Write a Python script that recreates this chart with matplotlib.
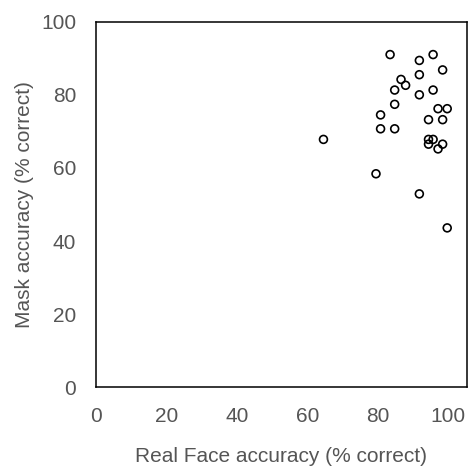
import matplotlib
matplotlib.use("Agg")
import matplotlib.pyplot as plt

real_face = [83.5, 91.8, 95.7, 98.4, 91.8, 86.6, 87.9, 84.8, 95.7, 91.8,
             84.8, 80.8, 97.1, 99.7, 94.4, 98.4, 80.8, 84.8, 64.6, 94.4,
             95.7, 94.4, 98.4, 97.1, 79.5, 91.8, 99.7]
mask = [91.0, 89.4, 91.0, 86.8, 85.5, 84.2, 82.6, 81.3, 81.3, 80.0,
        77.4, 74.5, 76.2, 76.2, 73.2, 73.2, 70.7, 70.7, 67.8, 67.8,
        67.8, 66.5, 66.5, 65.2, 58.4, 52.9, 43.6]
ticks = [0, 20, 40, 60, 80, 100]

plt.rcParams['font.family'] = ['Liberation Sans', 'DejaVu Sans']
fig = plt.figure(figsize=(4.68, 4.68), dpi=100)
ax = fig.add_axes([0.2045, 0.1724, 0.7925, 0.7813])
ax.scatter(real_face, mask, s=32, facecolors='none', edgecolors='black', linewidths=1.2)
ax.set_xlim(0, 105.2)
ax.set_ylim(0, 100)
ax.set_xticks(ticks)
ax.set_yticks(ticks)
grey = '#555555'
ax.tick_params(length=0, pad=14, labelsize=15, colors=grey)
for s in ax.spines.values():
    s.set_linewidth(1.1)
    s.set_color('black')
ax.set_xlabel('Real Face accuracy (% correct)', fontsize=15, color=grey, labelpad=15)
ax.set_ylabel('Mask accuracy (% correct)', fontsize=15, color=grey, labelpad=5)
fig.savefig('out.png', dpi=100)
